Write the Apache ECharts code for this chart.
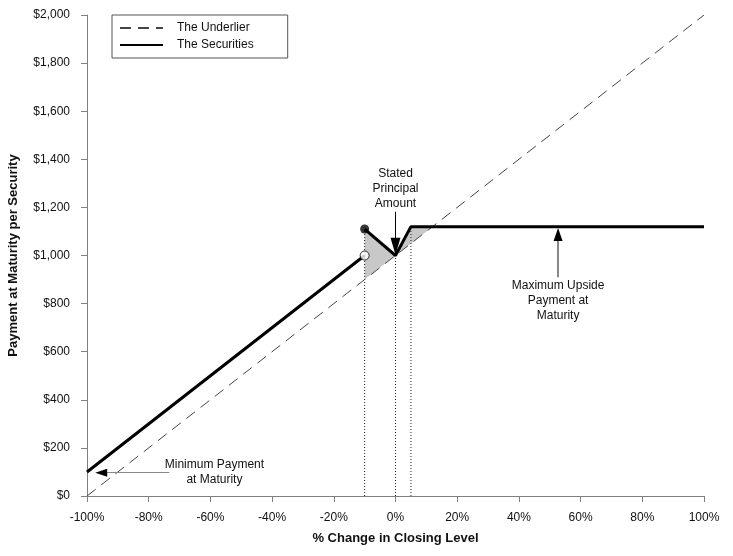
<!DOCTYPE html>
<html>
<head>
<meta charset="utf-8">
<script src="https://cdn.jsdelivr.net/npm/echarts@6/dist/echarts.min.js"></script>
<style>
  html, body { margin: 0; padding: 0; background: #fff; }
  #chart { width: 733px; height: 556px; }
</style>
</head>
<body>
<div id="chart"></div>
<script>
// axis ticks
var xTicks = [-100, -80, -60, -40, -20, 0, 20, 40, 60, 80, 100];
var yTicks = [0, 200, 400, 600, 800, 1000, 1200, 1400, 1600, 1800, 2000];

// the underlier (dashed)
var underlierX = [-100, 100];
var underlierY = [0, 2000];

// the securities, in two pieces (jump at -10%)
var secLowX = [-100, -10];
var secLowY = [100, 1000];
var secHighX = [-10, 0, 5, 100];
var secHighY = [1110, 1000, 1120, 1120];

// gray shaded areas between securities and underlier
var shadeLeft = [[-10, 900], [-10, 1110], [0, 1000]];
var shadeRight = [[0, 1000], [5, 1120], [12, 1120]];

// dotted drop lines [x, top]
var dropLines = [[-10, 1110], [0, 1000], [5, 1120]];

// end points at -10%
var filledDot = [[-10, 1110]];
var openDot = [[-10, 1000]];

function pairs(xs, ys) {
    return xs.map(function (x, i) { return [x, ys[i]]; });
}

var dom = document.getElementById('chart');
var myChart = echarts.init(dom);

var font = 'Liberation Sans, Arial, sans-serif';

function polygonSeries(pts) {
    return {
        type: 'custom',
        silent: true,
        z: 1,
        data: pts,
        renderItem: function (params, api) {
            if (params.dataIndex !== 0) return;
            var poly = pts.map(function (p) { return api.coord(p); });
            return {
                type: 'polygon',
                shape: { points: poly },
                style: { fill: '#c8c8c8', stroke: 'none' }
            };
        }
    };
}

var series = [
    polygonSeries(shadeLeft),
    polygonSeries(shadeRight)
];

dropLines.forEach(function (d) {
    series.push({
        type: 'line',
        silent: true,
        symbol: 'none',
        z: 2,
        data: [[d[0], 0], [d[0], d[1]]],
        lineStyle: { color: '#222', width: 1, type: [1, 2] }
    });
});

series.push({
    name: 'The Underlier',
    type: 'line',
    symbol: 'none',
    z: 3,
    data: pairs(underlierX, underlierY),
    lineStyle: { color: '#444', width: 1, type: [11, 7] },
    itemStyle: { color: '#444' }
});

series.push({
    name: 'The Securities',
    type: 'line',
    symbol: 'none',
    z: 4,
    data: pairs(secLowX, secLowY),
    lineStyle: { color: '#000', width: 3 },
    itemStyle: { color: '#000' }
});

series.push({
    name: 'The Securities',
    type: 'line',
    symbol: 'none',
    z: 4,
    data: pairs(secHighX, secHighY),
    lineStyle: { color: '#000', width: 3 },
    itemStyle: { color: '#000' }
});

series.push({
    type: 'scatter',
    z: 5,
    symbolSize: 9,
    data: filledDot,
    itemStyle: { color: '#000' }
});

series.push({
    type: 'scatter',
    z: 5,
    symbolSize: 9,
    data: openDot,
    itemStyle: { color: '#fff', borderColor: '#000', borderWidth: 1 }
});

// annotations: text, arrow shafts and arrow heads
series.push({
    type: 'line',
    silent: true,
    symbol: 'none',
    data: [],
    z: 6,
    markPoint: {
        silent: true,
        data: [
            { coord: [0, 1276], value: 'Stated\nPrincipal\nAmount', symbolSize: 0 },
            { coord: [52.7, 811], value: 'Maximum Upside\nPayment at\nMaturity', symbolSize: 0 },
            { coord: [-58.7, 100], value: 'Minimum Payment\nat Maturity', symbolSize: 0 },
            { coord: [0, 1038], symbol: 'triangle', symbolSize: [10, 17], symbolRotate: 180, label: { show: false } },
            { coord: [52.7, 1087], symbol: 'triangle', symbolSize: [9, 13], label: { show: false } },
            { coord: [-95.4, 97], symbol: 'triangle', symbolSize: [8, 12], symbolRotate: 90, label: { show: false } }
        ],
        itemStyle: { color: '#000' },
        label: {
            show: true,
            position: 'inside',
            color: '#111',
            fontFamily: font,
            fontSize: 12,
            lineHeight: 15,
            align: 'center',
            formatter: function (p) { return p.value; }
        }
    },
    markLine: {
        silent: true,
        symbol: ['none', 'none'],
        label: { show: false },
        data: [
            [{ coord: [0, 1182], lineStyle: { color: '#000', width: 1, type: 'solid' } }, { coord: [0, 1060] }],
            [{ coord: [52.7, 910], lineStyle: { color: '#888', width: 2, type: 'solid' } }, { coord: [52.7, 1070] }],
            [{ coord: [-73.3, 97], lineStyle: { color: '#888', width: 1, type: 'solid' } }, { coord: [-93.5, 97] }]
        ]
    }
});

option = {
    animation: false,
    backgroundColor: '#fff',
    textStyle: { fontFamily: font },
    grid: { left: 87, right: 29, top: 15, bottom: 60, containLabel: false, outerBoundsMode: 'none' },
    legend: {
        data: ['The Underlier', 'The Securities'],
        orient: 'vertical',
        left: 112,
        top: 15,
        padding: [7, 34, 7, 7],
        itemGap: 5,
        itemWidth: 43,
        itemHeight: 13,
        borderColor: '#555',
        borderWidth: 1,
        backgroundColor: '#fff',
        itemStyle: { opacity: 0 },
        textStyle: { color: '#111', fontSize: 12, fontFamily: font, padding: [0, 0, 0, 9] }
    },
    xAxis: {
        type: 'value',
        min: xTicks[0],
        max: xTicks[xTicks.length - 1],
        interval: 20,
        name: '% Change in Closing Level',
        nameLocation: 'middle',
        nameGap: 36,
        nameTextStyle: { color: '#111', fontWeight: 'bold', fontSize: 13, fontFamily: font },
        axisLine: { onZero: false, lineStyle: { color: '#808080', width: 1 } },
        axisTick: { length: 6, lineStyle: { color: '#808080' } },
        axisLabel: { color: '#111', fontSize: 12, margin: 16, formatter: '{value}%' },
        splitLine: { show: false }
    },
    yAxis: {
        type: 'value',
        min: yTicks[0],
        max: yTicks[yTicks.length - 1],
        interval: 200,
        name: 'Payment at Maturity per Security',
        nameLocation: 'middle',
        nameGap: 67,
        nameTextStyle: { color: '#111', fontWeight: 'bold', fontSize: 13, fontFamily: font },
        axisLine: { show: true, onZero: false, lineStyle: { color: '#808080', width: 1 } },
        axisTick: { show: true, length: 6, lineStyle: { color: '#808080' } },
        axisLabel: {
            color: '#111', fontSize: 12, margin: 17,
            formatter: function (v) { return '$' + v.toLocaleString('en-US'); }
        },
        splitLine: { show: false }
    },
    series: series
};

myChart.setOption(option, true);
</script>
</body>
</html>
